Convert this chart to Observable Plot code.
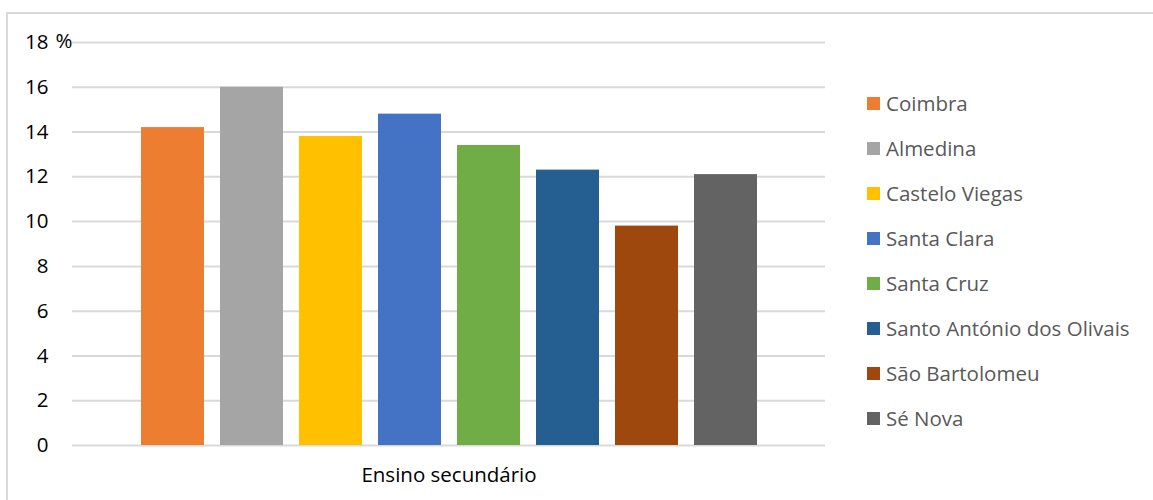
<!DOCTYPE html>
<html>
<head>
<meta charset="utf-8">
<script src="https://cdn.jsdelivr.net/npm/d3@7"></script>
<script src="https://cdn.jsdelivr.net/npm/@observablehq/plot@0.6"></script>
<style>
  html, body { margin: 0; padding: 0; background: #fff; }
  #wrap { position: relative; width: 1153px; height: 500px; overflow: hidden; }
  #frame { position: absolute; left: 6px; top: 12px; right: -4px; bottom: -4px;
           border-top: 2px solid #d9d9d9; border-left: 2px solid #d9d9d9; }
  #chart { position: absolute; left: 0; top: 0; }
  #legend { position: absolute; left: 867px; top: 0; font-family: "Open Sans", sans-serif;
            font-size: 20.5px; color: #595959; }
  .item { position: absolute; left: 0; white-space: nowrap; display: flex; align-items: center; height: 26px; }
  .sw { width: 13px; height: 13px; margin-right: 6px; flex: none; }
</style>
</head>
<body>
<div id="wrap">
  <div id="frame"></div>
  <div id="chart"></div>
  <div id="legend"></div>
</div>
<script>
const category = "Ensino secundário";
const freguesias = ["Coimbra", "Almedina", "Castelo Viegas", "Santa Clara", "Santa Cruz",
  "Santo António dos Olivais", "São Bartolomeu", "Sé Nova"];
const valores = [14.2, 16.0, 13.8, 14.8, 13.4, 12.3, 9.8, 12.1];
const cores = ["#ED7D31", "#A5A5A5", "#FFC000", "#4472C4", "#70AD47", "#255E91", "#9E480E", "#636363"];
const yTicks = [0, 2, 4, 6, 8, 10, 12, 14, 16, 18];
const unidade = "%";

const data = freguesias.map((f, i) => ({categoria: category, freguesia: f, valor: valores[i]}));

const chart = Plot.plot({
  width: 1153,
  height: 500,
  marginLeft: 72,
  marginRight: 328,
  marginTop: 42,
  marginBottom: 55,
  style: {fontFamily: "'Open Sans', sans-serif", fontSize: "20px", color: "#000", background: "transparent"},
  fx: {domain: [category], padding: 0},
  x: {domain: freguesias, paddingInner: 0.205, paddingOuter: 0.84, axis: null},
  y: {domain: [0, 18]},
  color: {domain: freguesias, range: cores},
  marks: [
    Plot.gridY(yTicks, {stroke: "#d9d9d9", strokeOpacity: 1, strokeWidth: 2}),
    Plot.axisY(yTicks, {tickSize: 0, tickPadding: 24, label: null, fill: "#000", fontSize: 20.5}),
    Plot.axisFx({tickSize: 0, tickPadding: 22, label: null, anchor: "bottom", fill: "#000", fontSize: 20.5}),
    Plot.barY(data, {fx: "categoria", x: "freguesia", y: "valor", fill: "freguesia"}),
    Plot.text([unidade], {frameAnchor: "top-left", textAnchor: "start", lineAnchor: "middle",
      dx: -17, dy: -1, fill: "#000", fontSize: 20.5})
  ]
});
document.getElementById("chart").appendChild(chart);

const legend = d3.select("#legend");
freguesias.forEach((f, i) => {
  const item = legend.append("div").attr("class", "item").style("top", (90 + i * 45) + "px");
  item.append("div").attr("class", "sw").style("background", cores[i]);
  item.append("span").text(f);
});
</script>
</body>
</html>
